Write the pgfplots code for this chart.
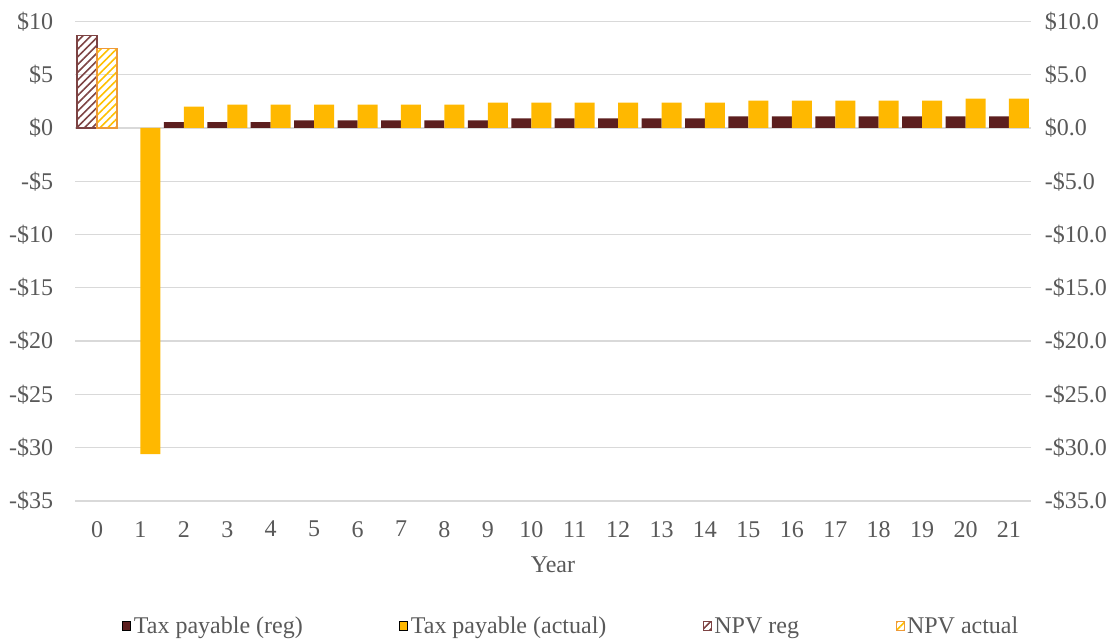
\documentclass[border=0pt]{standalone}
\usepackage{pgfplots}
\pgfplotsset{compat=1.18}
\usepackage{pgfplotstable}
\usepackage{fontspec}
\setmainfont{Liberation Serif}
\usetikzlibrary{patterns.meta}

\definecolor{regcol}{HTML}{5C1F1F}
\definecolor{actcol}{HTML}{FFB800}
\definecolor{npvregcol}{HTML}{7D4343}
\definecolor{npvacthatch}{HTML}{FFC000}
\definecolor{npvactedge}{HTML}{EE9A38}
\definecolor{gridgray}{HTML}{D9D9D9}
\definecolor{txtgray}{HTML}{595959}

% Tax payable, regulatory model (years 2-21)
\pgfplotstableread{
year val
2 0.54
3 0.54
4 0.54
5 0.72
6 0.72
7 0.72
8 0.72
9 0.72
10 0.90
11 0.90
12 0.90
13 0.90
14 0.90
15 1.08
16 1.08
17 1.08
18 1.08
19 1.08
20 1.08
21 1.08
}\regtable

% Tax payable, actual (years 1-21)
\pgfplotstableread{
year val
1 -30.6
2 2.00
3 2.18
4 2.18
5 2.18
6 2.18
7 2.18
8 2.18
9 2.37
10 2.37
11 2.37
12 2.37
13 2.37
14 2.37
15 2.56
16 2.56
17 2.56
18 2.56
19 2.56
20 2.75
21 2.75
}\acttable

\pgfplotsset{
  sqlegend/.style={legend image code/.code={
    \draw[##1,line width=1pt] (0pt,-4.5pt) rectangle (8pt,4.5pt);}},
  basefont/.style={font=\fontsize{24}{28}\selectfont},
}

\begin{document}
\begin{tikzpicture}
\path[use as bounding box] (-75.3pt,-139pt) rectangle (1038.7pt,501pt);
\begin{axis}[
  scale only axis,
  width=955.4pt, height=479.6pt,
  xmin=-0.5, xmax=21.5,
  ymin=-35, ymax=10,
  basefont,
  axis line style={draw=none},
  tick style={draw=none},
  ymajorgrids,
  grid style={color=gridgray, line width=1.3pt},
  xtick={0,...,21},
  /pgf/number format/assume math mode=true,
  ytick={-35,-30,...,10},
  yticklabels={-\$35,-\$30,-\$25,-\$20,-\$15,-\$10,-\$5,\$0,\$5,\$10},
  every tick label/.append style={text=txtgray, inner sep=0pt},
  xticklabel shift=20pt,
  yticklabel shift=22pt,
  xlabel={Year},
  xlabel style={at={(axis description cs:0.5,-0.1334)}, anchor=center, text=txtgray, inner sep=0pt},
  legend columns=4,
  legend style={at={(axis description cs:0.519,-0.2606)}, anchor=center,
    draw=none, fill=none, text=txtgray, basefont,
    nodes={inner sep=1.5pt},
    /tikz/every even column/.append style={column sep=95pt},
    /tikz/every odd column/.append style={column sep=1pt}},
]
\addplot[ybar, bar width=0.4605, bar shift=-0.23, fill=regcol, draw=none, sqlegend]
  table[x=year, y=val] {\regtable};
\addlegendentry{Tax payable (reg)}
\addplot[ybar, bar width=0.4605, bar shift=0.23, fill=actcol, draw=none, sqlegend]
  table[x=year, y=val] {\acttable};
\addlegendentry{Tax payable (actual)}
\addplot[ybar, bar width=0.4605, bar shift=-0.23, draw=npvregcol, line width=1.2pt,
  pattern={Lines[angle=45, distance=5.5pt, line width=1.6pt]}, pattern color=npvregcol, sqlegend]
  coordinates {(0,8.66)};
\addlegendentry{NPV reg}
\addplot[ybar, bar width=0.4605, bar shift=0.23, draw=npvactedge, line width=1.2pt,
  pattern={Lines[angle=45, distance=5.5pt, line width=1.6pt]}, pattern color=npvacthatch, sqlegend]
  coordinates {(0,7.47)};
\addlegendentry{NPV actual}
\end{axis}
\begin{axis}[
  scale only axis,
  width=955.4pt, height=479.6pt,
  xmin=-0.5, xmax=21.5,
  ymin=-35, ymax=10,
  basefont,
  hide x axis,
  axis line style={draw=none},
  tick style={draw=none},
  yticklabel pos=right,
  ytick={-35,-30,...,10},
  yticklabels={-\$35.0,-\$30.0,-\$25.0,-\$20.0,-\$15.0,-\$10.0,-\$5.0,\$0.0,\$5.0,\$10.0},
  every tick label/.append style={text=txtgray, inner sep=0pt},
  yticklabel shift=14pt,
]
\addplot[draw=none, forget plot] coordinates {(0,0)};
\end{axis}
\end{tikzpicture}
\end{document}
